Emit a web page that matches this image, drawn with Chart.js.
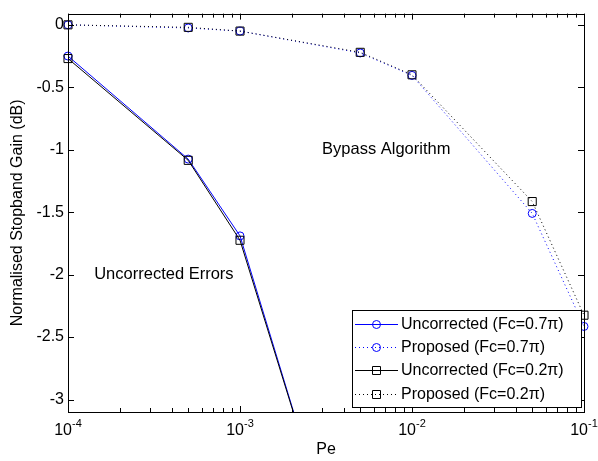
<!DOCTYPE html>
<html>
<head>
<meta charset="utf-8">
<script src="https://cdn.jsdelivr.net/npm/chart.js@4.4.0/dist/chart.umd.min.js"></script>
<style>
  html, body { margin: 0; padding: 0; background: #fff; }
  #wrap { width: 598px; height: 461px; }
</style>
</head>
<body>
<div id="wrap"><canvas id="chart" width="598" height="461"></canvas></div>
<script>
// error probability on the x axis
const peValues = [1e-4, 5e-4, 1e-3, 5e-3, 1e-2, 5e-2, 1e-1];

// stopband gain (dB)
const uncorrected07 = [-0.25, -1.075, -1.69, -4.85, null, null, null];
const proposed07 = [0, -0.025, -0.05, -0.225, -0.405, -1.51, -2.415];
const uncorrected02 = [-0.27, -1.085, -1.725, -4.83, null, null, null];
const proposed02 = [0, -0.02, -0.05, -0.22, -0.40, -1.415, -2.325];

const seriesNames = ['Uncorrected (Fc=0.7\u03c0)', 'Proposed (Fc=0.7\u03c0)', 'Uncorrected (Fc=0.2\u03c0)', 'Proposed (Fc=0.2\u03c0)'];
const xTicks = [1e-4, 1e-3, 1e-2, 1e-1];
const yTicks = [0, -0.5, -1, -1.5, -2, -2.5, -3];

const FONT = '"Liberation Sans", Arial, sans-serif';
const BLUE = '#0000ff';

function pts(vals) {
  return peValues.map((x, i) => ({ x: x, y: vals[i] }));
}

// minor ticks for the log axis (2..9 in every decade)
function minorTicks() {
  const out = [];
  for (let d = -4; d < -1; d++) {
    for (let m = 2; m <= 9; m++) out.push(m * Math.pow(10, d));
  }
  return out;
}

// box, inward ticks, x tick labels, text notes and the legend
const matlabLook = {
  id: 'matlabLook',
  afterDraw(chart) {
    const ctx = chart.ctx;
    const a = chart.chartArea;
    const xs = chart.scales.x, ys = chart.scales.y;
    ctx.save();
    ctx.strokeStyle = '#000';
    ctx.lineWidth = 1;
    ctx.strokeRect(Math.round(a.left) + 0.5, Math.round(a.top) + 0.5,
      Math.round(a.right - a.left), Math.round(a.bottom - a.top));

    ctx.beginPath();
    minorTicks().forEach(v => {
      const px = Math.round(xs.getPixelForValue(v)) + 0.5;
      ctx.moveTo(px, a.bottom); ctx.lineTo(px, a.bottom - 4);
      ctx.moveTo(px, a.top); ctx.lineTo(px, a.top + 4);
    });
    xTicks.forEach(v => {
      const px = Math.round(xs.getPixelForValue(v)) + 0.5;
      ctx.moveTo(px, a.bottom); ctx.lineTo(px, a.bottom - 6);
      ctx.moveTo(px, a.top); ctx.lineTo(px, a.top + 6);
    });
    yTicks.forEach(v => {
      const py = Math.round(ys.getPixelForValue(v)) + 0.5;
      ctx.moveTo(a.left, py); ctx.lineTo(a.left + 6, py);
      ctx.moveTo(a.right, py); ctx.lineTo(a.right - 6, py);
    });
    ctx.stroke();

    // x tick labels 10^n
    ctx.fillStyle = '#000';
    ctx.textBaseline = 'middle';
    xTicks.forEach(v => {
      const px = xs.getPixelForValue(v);
      const exp = String(Math.round(Math.log10(v)));
      ctx.font = '16px ' + FONT;
      const wb = ctx.measureText('10').width;
      ctx.font = '11px ' + FONT;
      const we = ctx.measureText(exp).width;
      const x0 = px - (wb + we) / 2;
      ctx.font = '16px ' + FONT;
      ctx.textAlign = 'left';
      ctx.fillText('10', x0, a.bottom + 19);
      ctx.font = '11px ' + FONT;
      ctx.fillText(exp, x0 + wb, a.bottom + 12);
    });

    // notes in data coordinates
    ctx.font = '16.5px ' + FONT;
    ctx.textAlign = 'left';
    ctx.fillText('Bypass Algorithm', xs.getPixelForValue(3.0e-3), ys.getPixelForValue(-1.0));
    ctx.fillText('Uncorrected Errors', xs.getPixelForValue(1.42e-4), ys.getPixelForValue(-2.0));

    // legend box in the lower right
    const lx = 352, ly = 310, lw = 229, lh = 97;
    ctx.fillStyle = '#fff';
    ctx.fillRect(lx, ly, lw, lh);
    ctx.strokeRect(lx + 0.5, ly + 0.5, lw, lh);
    const rows = [324, 347, 370, 394];
    chart.data.datasets.forEach((ds, i) => {
      const y = rows[i] + 0.5;
      ctx.strokeStyle = ds.borderColor;
      ctx.lineWidth = 1;
      ctx.setLineDash(ds.borderDash || []);
      ctx.beginPath();
      ctx.moveTo(355, y); ctx.lineTo(398, y);
      ctx.stroke();
      ctx.setLineDash([]);
      ctx.beginPath();
      if (ds.pointStyle === 'rect') {
        ctx.rect(372.5, y - 4, 8, 8);
      } else {
        ctx.arc(376.5, y, 4, 0, Math.PI * 2);
      }
      ctx.stroke();
      ctx.fillStyle = '#000';
      ctx.font = '16px ' + FONT;
      ctx.fillText(seriesNames[i], 401, rows[i] + 1);
    });
    ctx.restore();
  }
};

function makeSet(i, vals, color, dotted, style, order) {
  return {
    label: seriesNames[i],
    data: pts(vals),
    borderColor: color,
    borderWidth: 1,
    borderDash: dotted ? [1, 3] : [],
    pointStyle: style,
    pointRadius: style === 'rect' ? 5.7 : 4,
    pointBorderColor: color,
    pointBackgroundColor: 'rgba(0,0,0,0)',
    pointBorderWidth: 1,
    tension: 0,
    spanGaps: false,
    clip: { left: 8, top: 8, right: 10, bottom: 0 },
    order: order
  };
}

new Chart(document.getElementById('chart'), {
  type: 'line',
  data: {
    datasets: [
      makeSet(0, uncorrected07, BLUE, false, 'circle', 4),
      makeSet(1, proposed07, BLUE, true, 'circle', 3),
      makeSet(2, uncorrected02, '#000', false, 'rect', 2),
      makeSet(3, proposed02, '#000', true, 'rect', 1)
    ]
  },
  options: {
    responsive: false,
    animation: false,
    layout: { padding: { top: 6, right: 14, left: 0, bottom: 0 } },
    plugins: { legend: { display: false }, tooltip: { enabled: false } },
    scales: {
      x: {
        type: 'logarithmic',
        min: 1e-4,
        max: 1e-1,
        grid: { display: false },
        border: { display: false },
        ticks: { display: false },
        afterBuildTicks: s => { s.ticks = xTicks.map(v => ({ value: v })); },
        afterFit: s => { s.height = 49; },
        title: {
          display: true,
          text: 'Pe',
          color: '#000',
          font: { family: FONT, size: 16 },
          padding: { top: 0, bottom: 2 }
        }
      },
      y: {
        min: -3.1,
        max: 0.09,
        grid: { display: false, drawTicks: false },
        border: { display: false },
        afterBuildTicks: s => { s.ticks = yTicks.map(v => ({ value: v })); },
        afterFit: s => { s.width = 68; },
        ticks: {
          color: '#000',
          padding: 4,
          font: { family: FONT, size: 16 },
          callback: v => String(v)
        },
        title: {
          display: true,
          text: 'Normalised Stopband Gain (dB)',
          color: '#000',
          font: { family: FONT, size: 16 },
          padding: { top: 8, bottom: 0 }
        }
      }
    }
  },
  plugins: [matlabLook]
});
</script>
</body>
</html>
